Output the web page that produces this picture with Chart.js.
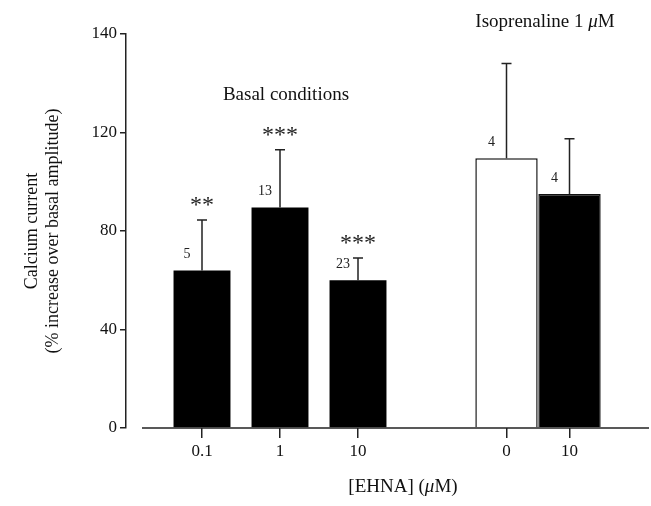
<!DOCTYPE html>
<html>
<head>
<meta charset="utf-8">
<script src="https://cdn.jsdelivr.net/npm/chart.js@4.4.0/dist/chart.umd.min.js"></script>
<style>
  html, body { margin: 0; padding: 0; background: #fff; }
  #wrap { width: 651px; height: 506px; }
</style>
</head>
<body>
<div id="wrap"><canvas id="chart-1"></canvas></div>
<script>
// basal conditions
const basalDoses = ["0.1", "1", "10"];
const basalMean = [64, 89.5, 60];
const basalSem = [20.5, 23.5, 9];
const basalN = ["5", "13", "23"];
const basalSig = ["**", "***", "***"];

// isoprenaline 1 uM
const isoDoses = ["0", "10"];
const isoMean = [109.5, 95];
const isoSem = [38.5, 22.5];
const isoN = ["4", "4"];
const isoSig = ["", ""];

const yTickLabels = ["0", "40", "80", "120", "140"];
const yTitle = ["Calcium current", "(% increase over basal amplitude)"];

const serif = "'Liberation Serif', 'DejaVu Serif', serif";
const ink = "#222";

// text drawn with an italic mu
function drawParts(ctx, parts, cx, y, size) {
  let total = 0;
  parts.forEach((p) => {
    ctx.font = (p[1] ? "italic " : "") + size + "px " + serif;
    total += ctx.measureText(p[0]).width;
  });
  let x = cx - total / 2;
  ctx.textAlign = "left";
  parts.forEach((p) => {
    ctx.font = (p[1] ? "italic " : "") + size + "px " + serif;
    ctx.fillText(p[0], x, y);
    x += ctx.measureText(p[0]).width;
  });
}

const extras = {
  id: "extras",
  afterDatasetsDraw(chart) {
    const ctx = chart.ctx;
    const y = chart.scales.y;
    const area = chart.chartArea;
    ctx.save();
    ctx.strokeStyle = ink;
    ctx.fillStyle = ink;
    ctx.lineWidth = 1.5;

    // x axis line (starts a bit right of the y axis)
    ctx.beginPath();
    ctx.moveTo(area.left + 16, area.bottom);
    ctx.lineTo(area.right + 48, area.bottom);
    ctx.stroke();

    chart.data.datasets.forEach((ds, di) => {
      const meta = chart.getDatasetMeta(di);
      meta.data.forEach((bar, i) => {
        const top = y.getPixelForValue(ds.data[i]);
        const cap = y.getPixelForValue(ds.data[i] + ds.sem[i]);
        ctx.beginPath();
        ctx.moveTo(bar.x, top);
        ctx.lineTo(bar.x, cap);
        ctx.moveTo(bar.x - 5, cap);
        ctx.lineTo(bar.x + 5, cap);
        ctx.stroke();

        ctx.font = "14px " + serif;
        ctx.textAlign = "center";
        ctx.textBaseline = "middle";
        ctx.fillText(ds.n[i], bar.x - 15, top - 16);

        if (ds.sig[i]) {
          ctx.font = "24px " + serif;
          ctx.textBaseline = "alphabetic";
          ctx.fillText(ds.sig[i], bar.x, cap - 8);
        }
      });
    });

    ctx.textBaseline = "alphabetic";
    ctx.fillStyle = "#111";
    drawParts(ctx, [["Basal conditions", false]], 286, 100, 19);
    drawParts(ctx, [["Isoprenaline 1 ", false], ["\u03bc", true], ["M", false]], 545, 27, 19);
    drawParts(ctx, [["[EHNA] (", false], ["\u03bc", true], ["M)", false]], 403, 492, 19);
    ctx.restore();
  }
};

const xHeight = (scale) => { scale.height = 78; };

const xGrid = {
  display: true,
  drawOnChartArea: false,
  drawTicks: true,
  offset: false,
  tickLength: 10,
  lineWidth: 1.5,
};

const ctx1 = document.getElementById("chart-1");

new Chart(ctx1, {
  type: "bar",
  data: {
    datasets: [
      {
        data: basalMean,
        sem: basalSem,
        n: basalN,
        sig: basalSig,
        xAxisID: "xb",
        grouped: false,
        backgroundColor: "#000",
        borderWidth: 0,
        barPercentage: 0.73,
        categoryPercentage: 1,
      },
      {
        data: isoMean,
        sem: isoSem,
        n: isoN,
        sig: isoSig,
        xAxisID: "xi",
        grouped: false,
        backgroundColor: ["#fff", "#000"],
        borderColor: "#111",
        borderWidth: 1.5,
        barPercentage: 0.99,
        categoryPercentage: 1,
      },
    ],
  },
  options: {
    responsive: true,
    maintainAspectRatio: false,
    animation: false,
    layout: { padding: { top: 34, right: 50, left: 0, bottom: 0 } },
    plugins: {
      legend: { display: false },
      tooltip: { enabled: false },
    },
    scales: {
      xs: {
        type: "category",
        labels: [""],
        position: "bottom",
        stack: "x",
        stackWeight: 37,
        grid: { display: false },
        border: { display: false },
        ticks: { display: false },
        afterFit: xHeight,
      },
      xb: {
        type: "category",
        labels: basalDoses.concat([""]),
        position: "bottom",
        stack: "x",
        stackWeight: 312,
        offset: true,
        grid: Object.assign({}, xGrid, {
          color: (c) => (c.index < basalDoses.length ? ink : "rgba(0,0,0,0)"),
        }),
        border: { display: false },
        ticks: { color: "#111", font: { family: serif, size: 17 }, padding: 3, maxRotation: 0 },
        afterFit: xHeight,
      },
      xi: {
        type: "category",
        labels: isoDoses,
        position: "bottom",
        stack: "x",
        stackWeight: 126,
        offset: true,
        grid: Object.assign({}, xGrid, { color: ink }),
        border: { display: false },
        ticks: { color: "#111", font: { family: serif, size: 17 }, padding: 3, maxRotation: 0 },
        afterFit: xHeight,
      },
      y: {
        min: 0,
        max: 160,
        ticks: {
          stepSize: 40,
          padding: 3,
          color: "#111",
          font: { family: serif, size: 17 },
          callback: (v, i) => yTickLabels[i],
        },
        grid: { drawOnChartArea: false, tickLength: 6, color: ink, lineWidth: 1.5 },
        border: { display: true, color: ink, width: 1.5 },
        title: {
          display: true,
          text: yTitle,
          color: "#111",
          font: { family: serif, size: 18, lineHeight: 1.2 },
          padding: { top: 21, bottom: 0 },
        },
        afterFit: (scale) => { scale.width = 126; },
      },
    },
  },
  plugins: [extras],
});
</script>
</body>
</html>
